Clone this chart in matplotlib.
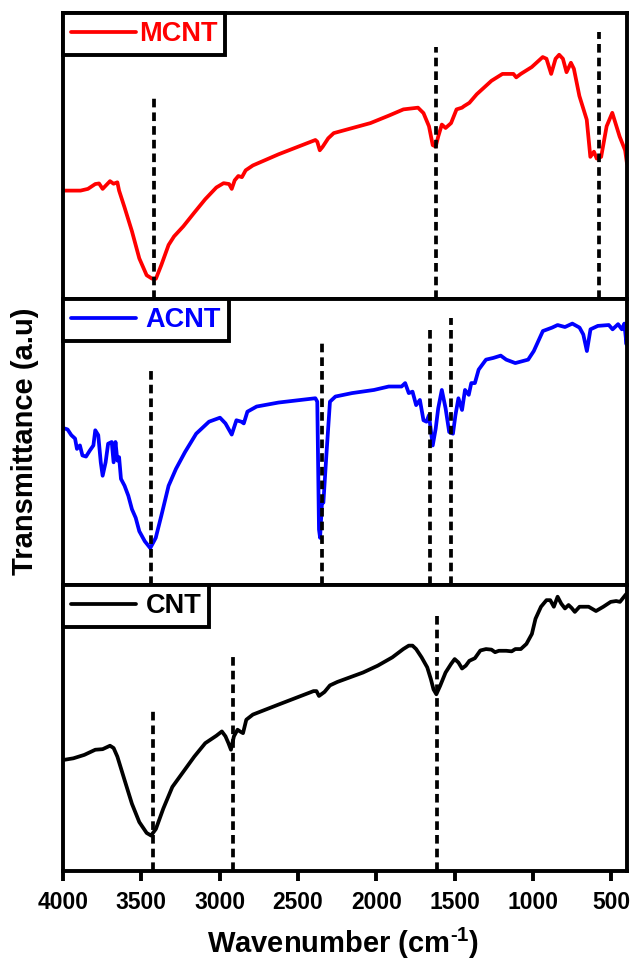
import matplotlib
matplotlib.use("Agg")
import matplotlib.pyplot as plt

plt.rcParams['font.family'] = ['Liberation Sans', 'DejaVu Sans']
plt.rcParams['font.weight'] = 'bold'
plt.rcParams['mathtext.fontset'] = 'custom'
plt.rcParams['mathtext.rm'] = 'Liberation Sans:bold'
plt.rcParams['mathtext.bf'] = 'Liberation Sans:bold'
plt.rcParams['mathtext.default'] = 'bf'

# ---- FTIR spectra (wavenumber in cm^-1, transmittance in a.u.) ----
mcnt_wn = [4000, 3888, 3841, 3794, 3770, 3747, 3700, 3677, 3653, 3642, 3607, 3560,
           3513, 3466, 3431, 3407, 3373, 3326, 3291, 3232, 3162, 3092, 3021, 2975,
           2940, 2923, 2904, 2881, 2858, 2834, 2788, 2624, 2389, 2377, 2361, 2343,
           2307, 2272, 2038, 1921, 1827, 1734, 1699, 1664, 1640, 1621, 1605, 1582,
           1558, 1523, 1488, 1453, 1441, 1406, 1359, 1265, 1195, 1125, 1107, 1078,
           1008, 938, 914, 884, 856, 833, 809, 786, 758, 739, 704, 657, 634, 611,
           593, 565, 530, 494, 447, 412, 400]
mcnt_t = [37.9, 37.9, 38.5, 40.2, 40.4, 38.5, 41.2, 40.3, 40.8, 37.9, 32.0, 23.7,
          14.2, 8.3, 7.1, 7.1, 11.8, 18.9, 21.9, 25.4, 30.2, 34.9, 39.0, 40.5,
          40.2, 38.5, 41.5, 43.0, 42.6, 45.0, 46.7, 50.6, 55.6, 55.0, 52.0, 53.2,
          56.2, 58.0, 61.5, 64.1, 66.3, 66.9, 65.0, 60.4, 53.8, 53.3, 56.8, 61.0,
          59.8, 61.5, 66.3, 66.9, 67.4, 68.6, 71.6, 76.3, 78.7, 78.7, 77.5, 78.7,
          81.1, 84.6, 84.0, 78.7, 84.0, 85.4, 84.0, 79.3, 82.6, 80.5, 71.0, 62.7,
          49.7, 51.5, 49.1, 49.7, 60.4, 65.1, 56.8, 52.0, 47.3]

acnt_wn = [4000, 3971, 3947, 3923, 3911, 3892, 3876, 3853, 3829, 3806, 3794, 3775,
           3759, 3747, 3728, 3712, 3689, 3677, 3665, 3653, 3642, 3630, 3607, 3583,
           3560, 3536, 3513, 3478, 3443, 3408, 3373, 3326, 3279, 3221, 3150, 3068,
           2998, 2963, 2923, 2893, 2862, 2846, 2823, 2764, 2624, 2389, 2377, 2366,
           2359, 2347, 2338, 2319, 2296, 2261, 2155, 2015, 1921, 1839, 1816, 1793,
           1769, 1746, 1722, 1699, 1680, 1664, 1640, 1621, 1605, 1582, 1558, 1535,
           1511, 1495, 1476, 1453, 1434, 1410, 1394, 1371, 1347, 1300, 1253, 1206,
           1171, 1113, 1031, 995, 937, 878, 843, 796, 749, 703, 679, 656, 633, 586,
           516, 492, 457, 433, 417, 403, 400]
acnt_t = [54.9, 54.4, 52.4, 51.2, 47.6, 48.8, 45.3, 44.9, 47.0, 48.8, 54.1, 52.4,
          42.9, 38.2, 42.9, 49.4, 50.0, 42.9, 50.0, 43.5, 44.7, 37.1, 34.7, 31.2,
          26.5, 23.5, 18.8, 15.3, 12.9, 16.5, 24.1, 34.7, 40.6, 46.5, 52.9, 57.1,
          58.5, 56.5, 52.6, 57.6, 57.1, 56.5, 60.6, 62.4, 63.8, 65.3, 64.1, 19.4,
          16.5, 28.8, 28.8, 45.3, 64.1, 65.9, 67.1, 68.2, 69.4, 69.4, 70.6, 67.1,
          67.6, 62.9, 64.7, 57.6, 57.1, 59.4, 48.8, 54.7, 61.8, 68.2, 61.8, 53.5,
          52.9, 59.4, 65.3, 61.2, 68.2, 66.5, 70.6, 70.6, 75.3, 78.8, 79.4, 80.2,
          78.8, 77.6, 78.8, 81.8, 88.8, 90.0, 90.9, 90.2, 91.4, 90.0, 87.6, 81.8,
          89.4, 90.6, 90.9, 89.4, 91.2, 89.4, 91.4, 84.1, 87.6]

cnt_wn = [4000, 3934, 3864, 3794, 3747, 3700, 3677, 3653, 3607, 3560, 3513, 3466,
          3438, 3407, 3360, 3302, 3232, 3162, 3092, 3021, 2986, 2963, 2944, 2928,
          2909, 2886, 2870, 2851, 2830, 2788, 2624, 2401, 2382, 2366, 2331, 2296,
          2249, 2085, 1991, 1898, 1828, 1793, 1769, 1746, 1711, 1675, 1652, 1635,
          1617, 1593, 1558, 1523, 1500, 1476, 1453, 1429, 1406, 1371, 1336, 1300,
          1265, 1242, 1218, 1171, 1136, 1113, 1078, 1042, 1007, 984, 949, 914, 890,
          867, 843, 820, 796, 773, 754, 733, 703, 645, 598, 551, 504, 469, 445, 410,
          400]
cnt_t = [38.8, 39.4, 40.6, 42.4, 42.6, 43.8, 43.0, 40.0, 31.8, 23.5, 17.1, 13.3,
         12.4, 14.7, 21.8, 29.4, 34.7, 40.0, 44.7, 47.3, 48.8, 47.1, 44.7, 42.4,
         47.1, 49.4, 48.8, 48.2, 52.9, 54.7, 58.2, 62.9, 62.9, 61.2, 62.6, 64.9,
         66.1, 69.4, 71.8, 74.7, 77.6, 78.8, 78.8, 77.6, 74.7, 71.2, 67.1, 63.5,
         61.8, 64.7, 69.4, 72.4, 74.1, 72.9, 70.8, 71.8, 73.5, 74.4, 77.1, 77.6,
         77.4, 76.5, 77.0, 77.0, 76.8, 77.6, 77.6, 79.4, 82.9, 88.2, 92.4, 94.7,
         94.7, 92.4, 95.9, 93.5, 91.8, 93.0, 92.0, 90.6, 92.4, 92.4, 90.9, 92.4,
         94.1, 94.4, 94.1, 96.5, 97.1]

# peak markers: (wavenumber, top of dashed guide)
mcnt_peaks = [3420, 1620, 580]
mcnt_peak_tops = [70.4, 88.2, 93.5]
acnt_peaks = [3440, 2345, 1655, 1525]
acnt_peak_tops = [74.7, 85.9, 90.0, 93.5]
cnt_peaks = [3425, 2915, 1610]
cnt_peak_tops = [56.5, 76.5, 89.4]

labels = ['MCNT', 'ACNT', 'CNT']
colors = ['#ff0000', '#0000ff', '#000000']
xticks = [4000, 3500, 3000, 2500, 2000, 1500, 1000, 500]

W, H = 630, 961
fig = plt.figure(figsize=(W / 100, H / 100), dpi=100)
left, right = 63 / W, 627 / W
top_px, bot_px = 13, 871
ph = (bot_px - top_px) / 3

series = [(mcnt_wn, mcnt_t, mcnt_peaks, mcnt_peak_tops),
          (acnt_wn, acnt_t, acnt_peaks, acnt_peak_tops),
          (cnt_wn, cnt_t, cnt_peaks, cnt_peak_tops)]

for i, (wn, t, pk, pkt) in enumerate(series):
    y0 = 1 - (top_px + (i + 1) * ph) / H
    ax = fig.add_axes([left, y0, right - left, ph / H])
    ax.plot(wn, t, color=colors[i], lw=2.7, label=labels[i],
            solid_joinstyle='round', solid_capstyle='round')
    for p, tp in zip(pk, pkt):
        ax.plot([p, p], [0, tp], color='black', lw=2.7,
                linestyle=(0, (2.3, 1.35)))
    ax.set_xlim(4000, 400)
    ax.set_ylim(0, 100)
    ax.set_yticks([])
    for s in ax.spines.values():
        s.set_linewidth(2.8)
    if i < 2:
        ax.set_xticks([])
    else:
        ax.set_xticks(xticks)
        ax.set_xticklabels([str(v) for v in xticks])
        ax.tick_params(axis='x', direction='out', length=7.5, width=2.8,
                       labelsize=16.5, pad=7)
        for lab in ax.get_xticklabels():
            lab.set_fontweight('bold')
    leg = ax.legend(loc='upper left', bbox_to_anchor=(0, 1), borderaxespad=0,
                    frameon=True, fancybox=False, edgecolor='black', framealpha=1,
                    handlelength=2.4, handletextpad=0.1 if i == 0 else 0.35,
                    borderpad=0.3, labelcolor='linecolor',
                    prop={'family': 'Liberation Sans', 'weight': 'bold', 'size': 19.5})
    leg.get_frame().set_linewidth(2.8)

fig.text(25 / W, 1 - 441 / H, 'Transmittance (a.u)', rotation=90,
         ha='center', va='center', fontsize=21, fontweight='bold')
fig.text(343 / W, 1 - 943 / H, r'Wavenumber (cm$^{\text{-1}}$)',
         ha='center', va='center', fontsize=21, fontweight='bold')

fig.savefig('out.png', dpi=100, facecolor='white')
